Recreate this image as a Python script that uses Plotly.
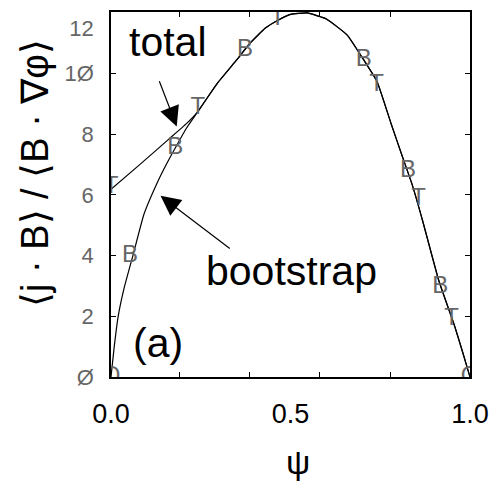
import plotly.graph_objects as go

# Bootstrap current profile <j.B>/<B.grad phi> versus normalized flux psi
psi_boot = [0.0, 0.009, 0.020, 0.038, 0.061, 0.092, 0.131, 0.155, 0.179, 0.21,
            0.242, 0.296, 0.35, 0.387, 0.43, 0.464, 0.50, 0.546, 0.60, 0.658,
            0.704, 0.741, 0.781, 0.813, 0.84, 0.868, 0.913, 0.958, 0.98, 1.0]
val_boot = [0.0, 1.0, 2.0, 3.0, 4.0, 5.37, 6.46, 7.03, 7.55, 8.2,
            8.75, 9.68, 10.45, 11.0, 11.5, 11.75, 11.95, 12.0, 11.8, 11.27,
            10.45, 9.74, 8.32, 7.22, 6.3, 5.15, 3.18, 1.65, 0.8, 0.0]

# Total current profile: offset near the axis, merges with bootstrap beyond psi ~ 0.24
psi_total = [0.0, 0.08, 0.165, 0.21] + psi_boot[10:]
val_total = [6.19, 7.0, 7.88, 8.35] + val_boot[10:]

# Letter symbols along the curves
psi_B = [0.053, 0.179, 0.373, 0.704, 0.827, 0.917]
val_B = [4.0, 7.55, 10.78, 10.45, 6.79, 2.96]
psi_T = [0.0, 0.242, 0.464, 0.74, 0.857, 0.949]
val_T = [6.25, 8.85, 11.8, 9.63, 5.86, 1.92]
psi_O = [0.0, 1.0]
val_O = [0.0, 0.0]

y_labels = [0, 2, 4, 6, 8, 10, 11.48]
y_ticktext = ["Ø", "2", "4", "6", "8", "1Ø", "12"]
y_minor = [2, 4, 6, 8, 10]
x_ticks = [0.0, 0.5, 1.0]
x_ticktext = ["0.0", "0.5", "1.0"]
x_minor = [0.192, 0.385, 0.582, 0.778]

fig = go.Figure()
line = dict(color="black", width=1.2, shape="spline", smoothing=0.4)
fig.add_trace(go.Scatter(x=psi_total, y=val_total, mode="lines", line=line,
                         hoverinfo="skip"))
fig.add_trace(go.Scatter(x=psi_boot, y=val_boot, mode="lines", line=line,
                         hoverinfo="skip"))
sym_font = dict(family="Liberation Sans", size=24, color="#666666")
for xs, ys, ch in [(psi_B, val_B, "B"), (psi_T, val_T, "T"), (psi_O, val_O, "O")]:
    fig.add_trace(go.Scatter(x=xs, y=ys, mode="text", text=[ch] * len(xs),
                             textposition="middle center", textfont=sym_font,
                             cliponaxis=True, hoverinfo="skip"))

big = dict(family="Liberation Sans", size=41, color="black")
annotations = [
    dict(x=0.158, y=11.05, xref="x", yref="y", text="total", showarrow=False,
         font=big, xanchor="center", yanchor="middle"),
    dict(x=0.503, y=3.5, xref="x", yref="y", text="bootstrap", showarrow=False,
         font=big, xanchor="center", yanchor="middle"),
    dict(x=0.13, y=1.13, xref="x", yref="y", text="(a)", showarrow=False,
         font=big, xanchor="center", yanchor="middle"),
    # arrows pointing at the curves
    dict(x=0.183, y=8.26, ax=0.133, ay=9.80, xref="x", yref="y", axref="x", ayref="y",
         text="", showarrow=True, arrowhead=2, arrowsize=3.3, arrowwidth=1.2,
         arrowcolor="black"),
    dict(x=0.138, y=5.97, ax=0.335, ay=4.20, xref="x", yref="y", axref="x", ayref="y",
         text="", showarrow=True, arrowhead=2, arrowsize=3.3, arrowwidth=1.2,
         arrowcolor="black"),
    # axis titles
    dict(x=-0.212, y=0.5586, xref="paper", yref="paper",
         text="⟨j · B⟩ / ⟨B · ∇φ⟩", textangle=-90, showarrow=False,
         font=dict(family="Liberation Sans", size=38, color="black"),
         xanchor="center", yanchor="middle"),
    dict(x=0.522, y=-0.234, xref="paper", yref="paper", text="ψ", showarrow=False,
         font=dict(family="Liberation Sans", size=34, color="black"),
         xanchor="center", yanchor="middle"),
]

fig.update_layout(
    width=499, height=489,
    margin=dict(l=111, r=20, t=10, b=112),
    paper_bgcolor="white", plot_bgcolor="white",
    showlegend=False,
    annotations=annotations,
    xaxis=dict(range=[0, 1], tickvals=x_ticks, ticktext=x_ticktext, ticks="",
               showgrid=False, zeroline=False, showline=True, linecolor="black",
               linewidth=1.5, mirror="ticks", ticklabelstandoff=12,
               tickfont=dict(family="Liberation Sans", size=27, color="black"),
               minor=dict(tickvals=x_minor, ticks="inside", ticklen=5,
                          tickcolor="black", tickwidth=1, showgrid=False)),
    yaxis=dict(range=[0, 12.03], tickvals=y_labels, ticktext=y_ticktext,
               ticks="", showgrid=False, zeroline=False, showline=True,
               linecolor="black", linewidth=1.5, mirror="ticks",
               ticklabelstandoff=11,
               tickfont=dict(family="Liberation Sans", size=22, color="#666666"),
               minor=dict(tickvals=y_minor, ticks="inside", ticklen=5,
                          tickcolor="black", tickwidth=1, showgrid=False)),
)

fig.write_html("out.html")
